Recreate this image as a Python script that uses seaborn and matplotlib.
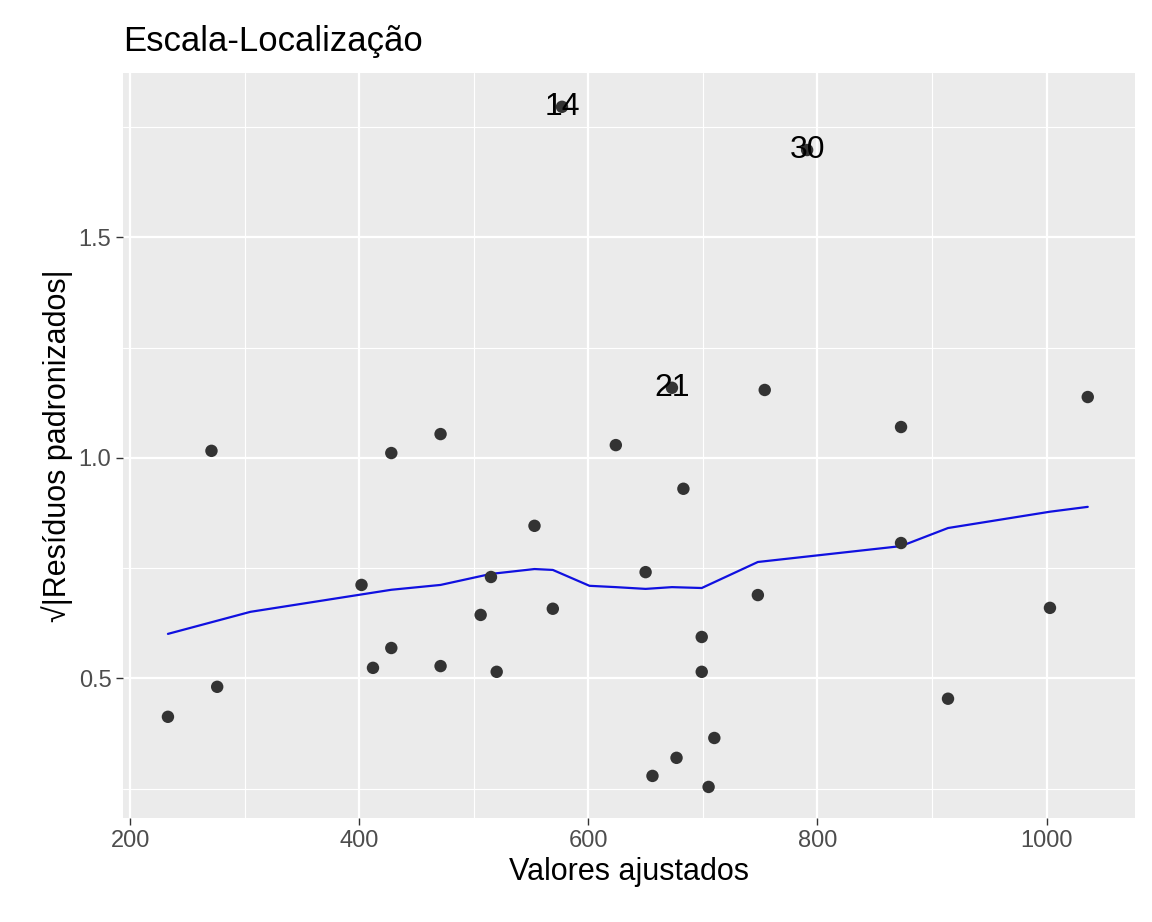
import matplotlib
matplotlib.use("Agg")
import matplotlib.pyplot as plt
import seaborn as sns
import pandas as pd
from matplotlib.ticker import MultipleLocator

fitted = [233, 271, 276, 402, 412, 428, 428, 471, 471, 515, 520, 506, 553, 569, 577,
          624, 650, 656, 673, 677, 683, 699, 699, 705, 710, 748, 754, 791, 873, 873,
          914, 1003, 1036]
sqrt_res = [0.413, 1.016, 0.481, 0.712, 0.524, 1.011, 0.569, 1.054, 0.528, 0.730, 0.515,
            0.644, 0.846, 0.658, 1.796, 1.029, 0.741, 0.279, 1.159, 0.320, 0.930, 0.594,
            0.515, 0.254, 0.365, 0.689, 1.154, 1.698, 1.070, 0.807, 0.454, 0.660, 1.138]
smooth_x = [233, 305, 428, 471, 515, 553, 569, 601, 624, 650, 673, 699, 748, 873, 914, 1003, 1036]
smooth_y = [0.601, 0.651, 0.701, 0.712, 0.737, 0.748, 0.746, 0.710, 0.707, 0.703, 0.707,
            0.705, 0.764, 0.800, 0.841, 0.878, 0.889]
label_x = [577, 673, 791]
label_y = [1.796, 1.159, 1.698]
label_txt = ["14", "21", "30"]

sns.set_theme(style="darkgrid")
plt.rcParams['font.family'] = ['Liberation Sans', 'DejaVu Sans']
fig = plt.figure(figsize=(11.52, 9.22), dpi=100)
ax = fig.add_axes([0.107, 0.113, 0.878, 0.808])
ax.set_facecolor("#EBEBEB")
df = pd.DataFrame({"x": fitted, "y": sqrt_res})
sns.scatterplot(data=df, x="x", y="y", ax=ax, color="#333333", s=80, edgecolor="none", zorder=3)
sns.lineplot(x=smooth_x, y=smooth_y, ax=ax, color="#1010E0", linewidth=1.6, zorder=2)
for lx, ly, t in zip(label_x, label_y, label_txt):
    ax.text(lx, ly, t, ha="center", va="center", fontsize=23, color="black", zorder=4)

ax.set_xlim(194, 1077)
ax.set_ylim(0.184, 1.873)
ax.set_xticks([200, 400, 600, 800, 1000])
ax.set_yticks([0.5, 1.0, 1.5])
ax.xaxis.set_minor_locator(MultipleLocator(100))
ax.yaxis.set_minor_locator(MultipleLocator(0.25))
ax.grid(which="major", color="white", linewidth=1.6)
ax.grid(which="minor", color="white", linewidth=0.8)
ax.tick_params(which="major", length=5, width=1, color="#333333", labelsize=17, labelcolor="#4D4D4D",
               bottom=True, left=True)
ax.tick_params(which="minor", length=0)
for s in ax.spines.values():
    s.set_visible(False)
ax.set_xlabel("Valores ajustados", fontsize=22, color="black")
ax.set_ylabel("√|Resíduos padronizados|", fontsize=22, color="black")
ax.set_title("Escala-Localização", fontsize=25, loc="left", pad=16, color="black")
fig.savefig("out.png", dpi=100)
